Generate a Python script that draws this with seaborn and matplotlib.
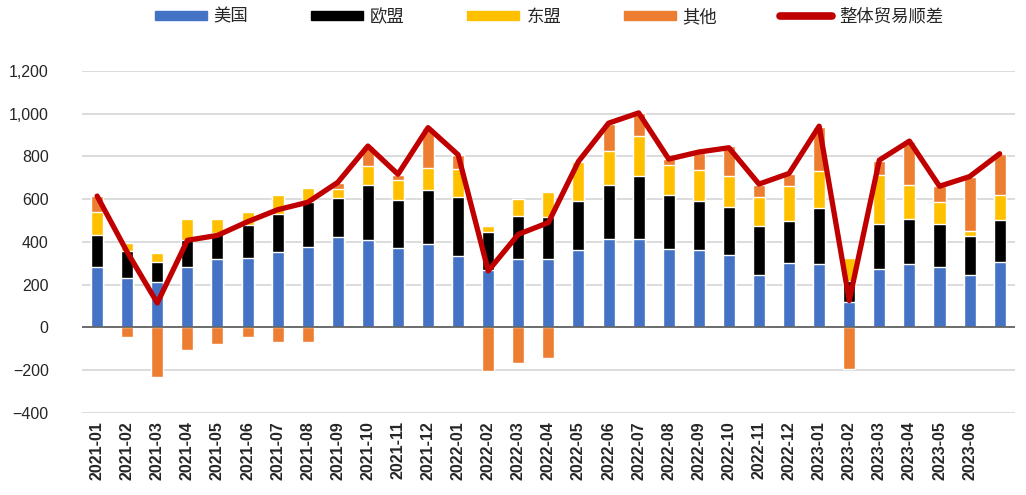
import numpy as np
import pandas as pd
import matplotlib
matplotlib.use("Agg")
import matplotlib.pyplot as plt
from matplotlib.patches import Patch
from matplotlib.lines import Line2D
from matplotlib.ticker import FuncFormatter
import seaborn as sns

# -- data
months = ["2021-01", "2021-02", "2021-03", "2021-04", "2021-05", "2021-06",
          "2021-07", "2021-08", "2021-09", "2021-10", "2021-11", "2021-12",
          "2022-01", "2022-02", "2022-03", "2022-04", "2022-05", "2022-06",
          "2022-07", "2022-08", "2022-09", "2022-10", "2022-11", "2022-12",
          "2023-01", "2023-02", "2023-03", "2023-04", "2023-05", "2023-06",
          "2023-07"]
tick_labels = months[:-1] + [""]

us = [282, 229, 213, 280, 318, 326, 354, 377, 421, 408, 369, 391, 332, 266, 321, 321,
      360, 413, 414, 368, 361, 340, 246, 301, 296, 118, 274, 298, 282, 246, 304]
eu = [150, 128, 91, 130, 124, 151, 174, 209, 182, 257, 225, 251, 276, 178, 198, 196,
      232, 252, 292, 251, 231, 224, 226, 196, 262, 97, 209, 211, 199, 179, 196]
asean = [107, 36, 45, 99, 63, 62, 89, 65, 44, 88, 96, 104, 134, 28, 81, 114,
         181, 161, 187, 141, 145, 146, 139, 165, 171, 109, 231, 156, 106, 27, 117]
other = [75, -44, -234, -104, -78, -47, -70, -69, 28, 93, 24, 186, 62, -206, -167, -143,
         6, 126, 109, 27, 78, 136, 56, 56, 210, -195, 65, 204, 75, 251, 193]
total = [614, 352, 114, 407, 430, 494, 550, 585, 678, 848, 716, 934, 807, 264, 435, 490,
         776, 955, 1003, 787, 820, 840, 670, 720, 941, 125, 782, 871, 660, 705, 812]

series_names = ["美国", "欧盟", "东盟", "其他"]
line_name = "整体贸易顺差"
bar_colors = ["#4472C4", "#000000", "#FFC000", "#ED7D31"]
line_color = "#C00000"

# -- stacked bars are drawn as overlapping cumulative sums
df = pd.DataFrame({"month": months, "us": us, "eu": eu, "asean": asean, "other": other})
df["c1"] = df["us"]
df["c2"] = df["c1"] + df["eu"]
df["c3"] = df["c2"] + df["asean"]
df["c4"] = df["c3"] + df["other"].clip(lower=0)
df["neg"] = df["other"].clip(upper=0)

sns.set_style("white")
plt.rcParams["font.family"] = ["Liberation Sans", "Noto Sans CJK SC", "DejaVu Sans"]

fig = plt.figure(figsize=(10.26, 4.95), dpi=100)
ax = fig.add_axes([0.080, 0.166, 0.909, 0.691])

bw = 0.4
for col, c in zip(["c4", "c3", "c2", "c1"], bar_colors[::-1]):
    sns.barplot(data=df, x="month", y=col, color=c, width=bw, saturation=1, ax=ax, zorder=2)
sns.barplot(data=df, x="month", y="neg", color=bar_colors[3], width=bw, saturation=1, ax=ax, zorder=2)

sns.lineplot(x=months, y=total, color=line_color, lw=3.8, ax=ax, sort=False, zorder=4,
             solid_joinstyle="round", solid_capstyle="round")

ax.set_ylim(-400, 1200)
ax.set_xlim(-0.5, len(months) - 0.5)
ax.set_yticks(np.arange(-400, 1201, 200))
ax.yaxis.set_major_formatter(FuncFormatter(lambda v, p: f"{v:,.0f}".replace("-", "\u2212")))
ax.grid(axis="y", color="#D9D9D9", lw=1.3, zorder=0)
ax.axhline(0, color="#595959", lw=1.2, zorder=3)
for s in ax.spines.values():
    s.set_visible(False)
ax.set_xlabel("")
ax.set_ylabel("")
ax.set_xticks(range(len(months)))
ax.set_xticklabels(tick_labels, rotation=90, fontsize=11.5, fontweight="bold")
ax.tick_params(axis="y", labelsize=11.5, length=0, pad=24)
ax.tick_params(axis="x", length=0, pad=6)

handles = [Patch(color=c) for c in bar_colors]
handles.append(Line2D([0], [0], color=line_color, lw=5.5, solid_capstyle="round"))
fig.legend(handles, series_names + [line_name], loc="center", ncol=5,
           bbox_to_anchor=(0.535, 0.966), frameon=False,
           prop={"family": ["Noto Sans CJK SC", "DejaVu Sans"], "size": 12.5},
           handlelength=3.0, handleheight=0.46, handletextpad=0.4, columnspacing=3.6)

fig.savefig("out.png", dpi=100)
